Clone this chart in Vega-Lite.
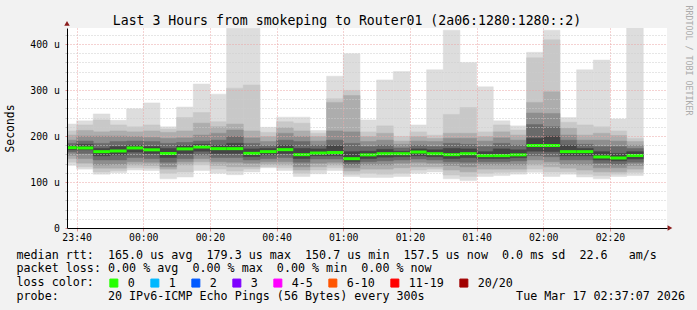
{
  "$schema": "https://vega.github.io/schema/vega-lite/v6.json",
  "width": 600,
  "height": 200,
  "autosize": {"type": "none"},
  "padding": {"left": 67, "top": 28, "right": 30, "bottom": 82},
  "background": "#f2f2f2",
  "config": {
    "font": "DejaVu Sans Mono",
    "view": {"fill": "white", "stroke": null}
  },
  "title": {
    "text": "Last 3 Hours from smokeping to Router01 (2a06:1280:1280::2)",
    "font": "DejaVu Sans Mono",
    "fontSize": 13.2,
    "fontWeight": "normal",
    "color": "black",
    "anchor": "middle",
    "frame": "group",
    "dx": -20,
    "dy": 37,
    "offset": 4,
    "baseline": "alphabetic"
  },
  "data": {
    "values": [
      {"s":"2026-03-16T23:35:00","e":"2026-03-16T23:40:00","mx":226,"h2":211,"h3":202,"h4":191,"h5":184,"h6":179,"med":174.6,"l6":170,"l5":165,"l4":158,"l3":151,"l2":143,"mn":136,"loss":"0"},
      {"s":"2026-03-16T23:40:00","e":"2026-03-16T23:45:00","mx":233,"h2":224,"h3":212,"h4":200,"h5":189,"h6":182,"med":174,"l6":170,"l5":162,"l4":151,"l3":141,"l2":133,"mn":128,"loss":"0"},
      {"s":"2026-03-16T23:45:00","e":"2026-03-16T23:50:00","mx":248,"h2":235,"h3":209,"h4":200,"h5":184,"h6":173,"med":166,"l6":157,"l5":148,"l4":137,"l3":130,"l2":122,"mn":117,"loss":"0"},
      {"s":"2026-03-16T23:50:00","e":"2026-03-16T23:55:00","mx":234,"h2":224,"h3":211,"h4":200,"h5":188,"h6":177,"med":167.4,"l6":159,"l5":148,"l4":138,"l3":130,"l2":125,"mn":120,"loss":"0"},
      {"s":"2026-03-16T23:55:00","e":"2026-03-17T00:00:00","mx":259,"h2":220,"h3":209,"h4":199,"h5":189,"h6":180,"med":174,"l6":165,"l5":153,"l4":144,"l3":137,"l2":131,"mn":126,"loss":"0"},
      {"s":"2026-03-17T00:00:00","e":"2026-03-17T00:05:00","mx":272,"h2":224,"h3":211,"h4":197,"h5":188,"h6":177,"med":170,"l6":162,"l5":151,"l4":143,"l3":136,"l2":130,"mn":125,"loss":"0"},
      {"s":"2026-03-17T00:05:00","e":"2026-03-17T00:10:00","mx":220,"h2":215,"h3":208,"h4":195,"h5":184,"h6":173,"med":162,"l6":153,"l5":143,"l4":133,"l3":128,"l2":119,"mn":107,"loss":"0"},
      {"s":"2026-03-17T00:10:00","e":"2026-03-17T00:15:00","mx":263,"h2":240,"h3":211,"h4":196,"h5":186,"h6":179,"med":172,"l6":162,"l5":151,"l4":144,"l3":137,"l2":122,"mn":111,"loss":"0"},
      {"s":"2026-03-17T00:15:00","e":"2026-03-17T00:20:00","mx":313,"h2":251,"h3":228,"h4":202,"h5":189,"h6":182,"med":176,"l6":167,"l5":159,"l4":151,"l3":144,"l2":137,"mn":125,"loss":"0"},
      {"s":"2026-03-17T00:20:00","e":"2026-03-17T00:25:00","mx":291,"h2":231,"h3":220,"h4":206,"h5":191,"h6":180,"med":172.5,"l6":162,"l5":153,"l4":144,"l3":136,"l2":128,"mn":119,"loss":"0"},
      {"s":"2026-03-17T00:25:00","e":"2026-03-17T00:30:00","mx":434,"h2":304,"h3":226,"h4":213,"h5":199,"h6":184,"med":172.5,"l6":162,"l5":153,"l4":143,"l3":133,"l2":124,"mn":116,"loss":"0"},
      {"s":"2026-03-17T00:30:00","e":"2026-03-17T00:35:00","mx":434,"h2":311,"h3":211,"h4":196,"h5":184,"h6":172,"med":162.3,"l6":155,"l5":148,"l4":141,"l3":133,"l2":128,"mn":122,"loss":"0"},
      {"s":"2026-03-17T00:35:00","e":"2026-03-17T00:40:00","mx":219,"h2":208,"h3":199,"h4":188,"h5":179,"h6":173,"med":166,"l6":159,"l5":151,"l4":144,"l3":138,"l2":133,"mn":131,"loss":"0"},
      {"s":"2026-03-17T00:40:00","e":"2026-03-17T00:45:00","mx":241,"h2":231,"h3":218,"h4":206,"h5":191,"h6":180,"med":170.3,"l6":162,"l5":153,"l4":144,"l3":137,"l2":131,"mn":125,"loss":"0"},
      {"s":"2026-03-17T00:45:00","e":"2026-03-17T00:50:00","mx":241,"h2":228,"h3":211,"h4":199,"h5":188,"h6":173,"med":159.4,"l6":151,"l5":143,"l4":133,"l3":126,"l2":119,"mn":112,"loss":"0"},
      {"s":"2026-03-17T00:50:00","e":"2026-03-17T00:55:00","mx":212,"h2":206,"h3":199,"h4":189,"h5":180,"h6":172,"med":163,"l6":157,"l5":150,"l4":141,"l3":133,"l2":126,"mn":118,"loss":"0"},
      {"s":"2026-03-17T00:55:00","e":"2026-03-17T01:00:00","mx":330,"h2":281,"h3":273,"h4":211,"h5":191,"h6":179,"med":164,"l6":157,"l5":150,"l4":143,"l3":137,"l2":131,"mn":125,"loss":"0"},
      {"s":"2026-03-17T01:00:00","e":"2026-03-17T01:05:00","mx":379,"h2":299,"h3":288,"h4":209,"h5":184,"h6":166,"med":150.7,"l6":144,"l5":138,"l4":131,"l3":124,"l2":117,"mn":112,"loss":"0"},
      {"s":"2026-03-17T01:05:00","e":"2026-03-17T01:10:00","mx":235,"h2":209,"h3":199,"h4":188,"h5":177,"h6":167,"med":159,"l6":151,"l5":144,"l4":137,"l3":128,"l2":119,"mn":110,"loss":"0"},
      {"s":"2026-03-17T01:10:00","e":"2026-03-17T01:15:00","mx":322,"h2":222,"h3":206,"h4":191,"h5":180,"h6":171,"med":161.6,"l6":154,"l5":146,"l4":137,"l3":128,"l2":117,"mn":110,"loss":"0"},
      {"s":"2026-03-17T01:15:00","e":"2026-03-17T01:20:00","mx":340,"h2":199,"h3":189,"h4":182,"h5":174,"h6":167,"med":161.6,"l6":155,"l5":148,"l4":141,"l3":131,"l2":119,"mn":112,"loss":"0"},
      {"s":"2026-03-17T01:20:00","e":"2026-03-17T01:25:00","mx":224,"h2":209,"h3":199,"h4":189,"h5":180,"h6":172,"med":165.2,"l6":157,"l5":150,"l4":143,"l3":133,"l2":126,"mn":119,"loss":"0"},
      {"s":"2026-03-17T01:25:00","e":"2026-03-17T01:30:00","mx":344,"h2":202,"h3":195,"h4":188,"h5":177,"h6":170,"med":161.6,"l6":155,"l5":148,"l4":141,"l3":133,"l2":128,"mn":122,"loss":"0"},
      {"s":"2026-03-17T01:30:00","e":"2026-03-17T01:35:00","mx":430,"h2":247,"h3":206,"h4":195,"h5":184,"h6":173,"med":159.4,"l6":151,"l5":144,"l4":136,"l3":126,"l2":115,"mn":107,"loss":"0"},
      {"s":"2026-03-17T01:35:00","e":"2026-03-17T01:40:00","mx":360,"h2":262,"h3":206,"h4":195,"h5":182,"h6":172,"med":161.6,"l6":153,"l5":143,"l4":133,"l3":122,"l2":112,"mn":103,"loss":"0"},
      {"s":"2026-03-17T01:40:00","e":"2026-03-17T01:45:00","mx":307,"h2":209,"h3":199,"h4":189,"h5":177,"h6":166,"med":157.3,"l6":151,"l5":144,"l4":137,"l3":128,"l2":119,"mn":112,"loss":"0"},
      {"s":"2026-03-17T01:45:00","e":"2026-03-17T01:50:00","mx":233,"h2":224,"h3":209,"h4":196,"h5":184,"h6":172,"med":157.3,"l6":151,"l5":144,"l4":137,"l3":128,"l2":121,"mn":114,"loss":"0"},
      {"s":"2026-03-17T01:50:00","e":"2026-03-17T01:55:00","mx":222,"h2":213,"h3":202,"h4":191,"h5":180,"h6":170,"med":159,"l6":153,"l5":146,"l4":137,"l3":128,"l2":122,"mn":117,"loss":"0"},
      {"s":"2026-03-17T01:55:00","e":"2026-03-17T02:00:00","mx":382,"h2":370,"h3":273,"h4":250,"h5":225,"h6":195,"med":179.3,"l6":167,"l5":157,"l4":148,"l3":137,"l2":128,"mn":121,"loss":"0"},
      {"s":"2026-03-17T02:00:00","e":"2026-03-17T02:05:00","mx":430,"h2":409,"h3":296,"h4":249,"h5":220,"h6":200,"med":179.3,"l6":166,"l5":155,"l4":144,"l3":133,"l2":122,"mn":112,"loss":"0"},
      {"s":"2026-03-17T02:05:00","e":"2026-03-17T02:10:00","mx":240,"h2":230,"h3":217,"h4":202,"h5":191,"h6":180,"med":166,"l6":157,"l5":148,"l4":138,"l3":130,"l2":122,"mn":117,"loss":"0"},
      {"s":"2026-03-17T02:10:00","e":"2026-03-17T02:15:00","mx":344,"h2":224,"h3":202,"h4":191,"h5":182,"h6":173,"med":166,"l6":157,"l5":148,"l4":137,"l3":126,"l2":117,"mn":111,"loss":"0"},
      {"s":"2026-03-17T02:15:00","e":"2026-03-17T02:20:00","mx":365,"h2":220,"h3":206,"h4":191,"h5":177,"h6":166,"med":154.4,"l6":148,"l5":141,"l4":131,"l3":122,"l2":114,"mn":107,"loss":"0"},
      {"s":"2026-03-17T02:20:00","e":"2026-03-17T02:25:00","mx":237,"h2":211,"h3":201,"h4":189,"h5":177,"h6":162,"med":152.2,"l6":146,"l5":138,"l4":131,"l3":122,"l2":117,"mn":112,"loss":"0"},
      {"s":"2026-03-17T02:25:00","e":"2026-03-17T02:30:00","mx":435,"h2":195,"h3":188,"h4":180,"h5":173,"h6":166,"med":157.5,"l6":150,"l5":143,"l4":136,"l3":128,"l2":121,"mn":114,"loss":"0"}
    ]
  },
  "layer": [
    {
      "mark": {"type": "rect", "color": "#dddddd", "stroke": "#dddddd", "strokeWidth": 0.5, "clip": true},
      "encoding": {
        "x": {
          "field": "s", "type": "temporal",
          "scale": {"domain": [{"year": 2026, "month": 3, "date": 16, "hours": 23, "minutes": 37, "seconds": 7}, {"year": 2026, "month": 3, "date": 17, "hours": 2, "minutes": 37, "seconds": 7}], "nice": false},
          "axis": {
            "orient": "bottom",
            "values": [
              {"year": 2026, "month": 3, "date": 16, "hours": 23, "minutes": 40},
              {"year": 2026, "month": 3, "date": 16, "hours": 23, "minutes": 45},
              {"year": 2026, "month": 3, "date": 16, "hours": 23, "minutes": 50},
              {"year": 2026, "month": 3, "date": 16, "hours": 23, "minutes": 55},
              {"year": 2026, "month": 3, "date": 17, "hours": 0, "minutes": 0},
              {"year": 2026, "month": 3, "date": 17, "hours": 0, "minutes": 5},
              {"year": 2026, "month": 3, "date": 17, "hours": 0, "minutes": 10},
              {"year": 2026, "month": 3, "date": 17, "hours": 0, "minutes": 15},
              {"year": 2026, "month": 3, "date": 17, "hours": 0, "minutes": 20},
              {"year": 2026, "month": 3, "date": 17, "hours": 0, "minutes": 25},
              {"year": 2026, "month": 3, "date": 17, "hours": 0, "minutes": 30},
              {"year": 2026, "month": 3, "date": 17, "hours": 0, "minutes": 35},
              {"year": 2026, "month": 3, "date": 17, "hours": 0, "minutes": 40},
              {"year": 2026, "month": 3, "date": 17, "hours": 0, "minutes": 45},
              {"year": 2026, "month": 3, "date": 17, "hours": 0, "minutes": 50},
              {"year": 2026, "month": 3, "date": 17, "hours": 0, "minutes": 55},
              {"year": 2026, "month": 3, "date": 17, "hours": 1, "minutes": 0},
              {"year": 2026, "month": 3, "date": 17, "hours": 1, "minutes": 5},
              {"year": 2026, "month": 3, "date": 17, "hours": 1, "minutes": 10},
              {"year": 2026, "month": 3, "date": 17, "hours": 1, "minutes": 15},
              {"year": 2026, "month": 3, "date": 17, "hours": 1, "minutes": 20},
              {"year": 2026, "month": 3, "date": 17, "hours": 1, "minutes": 25},
              {"year": 2026, "month": 3, "date": 17, "hours": 1, "minutes": 30},
              {"year": 2026, "month": 3, "date": 17, "hours": 1, "minutes": 35},
              {"year": 2026, "month": 3, "date": 17, "hours": 1, "minutes": 40},
              {"year": 2026, "month": 3, "date": 17, "hours": 1, "minutes": 45},
              {"year": 2026, "month": 3, "date": 17, "hours": 1, "minutes": 50},
              {"year": 2026, "month": 3, "date": 17, "hours": 1, "minutes": 55},
              {"year": 2026, "month": 3, "date": 17, "hours": 2, "minutes": 0},
              {"year": 2026, "month": 3, "date": 17, "hours": 2, "minutes": 5},
              {"year": 2026, "month": 3, "date": 17, "hours": 2, "minutes": 10},
              {"year": 2026, "month": 3, "date": 17, "hours": 2, "minutes": 15},
              {"year": 2026, "month": 3, "date": 17, "hours": 2, "minutes": 20},
              {"year": 2026, "month": 3, "date": 17, "hours": 2, "minutes": 25},
              {"year": 2026, "month": 3, "date": 17, "hours": 2, "minutes": 30},
              {"year": 2026, "month": 3, "date": 17, "hours": 2, "minutes": 35}
            ],
            "labelExpr": "minutes(datum.value) % 20 === 0 ? timeFormat(datum.value, '%H:%M') : ''",
            "labelFont": "DejaVu Sans Mono", "labelFontSize": 9.8, "labelColor": "black",
            "labelOverlap": false, "labelFlush": false, "labelBound": false, "labelPadding": 1.5,
            "ticks": true, "tickSize": 3, "tickWidth": 1,
            "tickColor": {"condition": {"test": "minutes(datum.value) % 20 === 0", "value": "#e09090"}, "value": "#c0c0c0"},
            "grid": true, "gridWidth": 1, "gridDash": [1, 2],
            "gridColor": {"condition": {"test": "minutes(datum.value) % 20 === 0", "value": "#eaa4a4"}, "value": "#cccccc"},
            "domainColor": "black", "domainWidth": 1,
            "zindex": 1,
            "title": ["median rtt:\u00a0\u00a0165.0 us avg\u00a0\u00a0179.3 us max\u00a0\u00a0150.7 us min\u00a0\u00a0157.5 us now\u00a0\u00a00.0 ms sd\u00a0\u00a022.6\u00a0\u00a0\u00a0am/s", "packet loss: 0.00 % avg\u00a0\u00a00.00 % max\u00a0\u00a00.00 % min\u00a0\u00a00.00 % now", "loss color:", "probe:\u00a0\u00a0\u00a0\u00a0\u00a0\u00a0\u00a020 IPv6-ICMP Echo Pings (56 Bytes) every 300s\u00a0\u00a0\u00a0\u00a0\u00a0\u00a0\u00a0\u00a0\u00a0\u00a0\u00a0\u00a0\u00a0Tue Mar 17 02:37:07 2026"],
            "titleFont": "DejaVu Sans Mono", "titleFontSize": 11.7, "titleFontWeight": "normal", "titleColor": "black",
            "titleAlign": "left", "titleAnchor": "start", "titleBaseline": "top",
            "titleX": -51, "titleY": 21, "titleLineHeight": 13.9
          }
        },
        "x2": {"field": "e"},
        "y": {
          "field": "mn", "type": "quantitative",
          "scale": {"domain": [0, 434.8], "nice": false, "zero": true},
          "axis": {
            "orient": "left",
            "values": [0, 20, 40, 60, 80, 100, 120, 140, 160, 180, 200, 220, 240, 260, 280, 300, 320, 340, 360, 380, 400, 420],
            "labelExpr": "datum.value % 100 === 0 ? (datum.value === 0 ? '0\u00a0\u00a0' : datum.value + '\u00a0u') : ''",
            "labelFont": "DejaVu Sans Mono", "labelFontSize": 9.8, "labelColor": "black",
            "labelOverlap": false, "labelFlush": false, "labelBound": false, "labelPadding": 5.7,
            "ticks": true, "tickSize": 2, "tickWidth": 1,
            "tickColor": {"condition": {"test": "datum.value % 100 === 0", "value": "#e09090"}, "value": "#c0c0c0"},
            "grid": true, "gridWidth": 1, "gridDash": [1, 2],
            "gridColor": {"condition": {"test": "datum.value % 100 === 0", "value": "#eaa4a4"}, "value": "#cccccc"},
            "domainColor": "black", "domainWidth": 1,
            "zindex": 1,
            "title": "Seconds",
            "titleFont": "DejaVu Sans Mono", "titleFontSize": 11.4, "titleFontWeight": "normal", "titleColor": "black",
            "titleAngle": -90, "titleAlign": "center", "titleBaseline": "middle",
            "titleX": -56.3, "titleY": 100
          }
        },
        "y2": {"field": "mx"}
      }
    },
    {
      "mark": {"type": "rect", "color": "#c8c8c8", "stroke": "#c8c8c8", "strokeWidth": 0.5, "clip": true},
      "encoding": {
        "x": {"field": "s", "type": "temporal"},
        "x2": {"field": "e"},
        "y": {"field": "l2", "type": "quantitative", "axis": null},
        "y2": {"field": "h2"}
      }
    },
    {
      "mark": {"type": "rect", "color": "#adadad", "stroke": "#adadad", "strokeWidth": 0.5, "clip": true},
      "encoding": {
        "x": {"field": "s", "type": "temporal"},
        "x2": {"field": "e"},
        "y": {"field": "l3", "type": "quantitative", "axis": null},
        "y2": {"field": "h3"}
      }
    },
    {
      "mark": {"type": "rect", "color": "#8e8e8e", "stroke": "#8e8e8e", "strokeWidth": 0.5, "clip": true},
      "encoding": {
        "x": {"field": "s", "type": "temporal"},
        "x2": {"field": "e"},
        "y": {"field": "l4", "type": "quantitative", "axis": null},
        "y2": {"field": "h4"}
      }
    },
    {
      "mark": {"type": "rect", "color": "#6a6a6a", "stroke": "#6a6a6a", "strokeWidth": 0.5, "clip": true},
      "encoding": {
        "x": {"field": "s", "type": "temporal"},
        "x2": {"field": "e"},
        "y": {"field": "l5", "type": "quantitative", "axis": null},
        "y2": {"field": "h5"}
      }
    },
    {
      "mark": {"type": "rect", "color": "#444444", "stroke": "#444444", "strokeWidth": 0.5, "clip": true},
      "encoding": {
        "x": {"field": "s", "type": "temporal"},
        "x2": {"field": "e"},
        "y": {"field": "l6", "type": "quantitative", "axis": null},
        "y2": {"field": "h6"}
      }
    },
    {
      "mark": {"type": "rule", "strokeWidth": 3, "strokeCap": "butt", "clip": true},
      "encoding": {
        "x": {"field": "s", "type": "temporal"},
        "x2": {"field": "e"},
        "y": {
          "field": "med", "type": "quantitative",
          "axis": {
            "orient": "right", "labels": false, "ticks": false, "domain": false, "grid": false,
            "title": "RRDTOOL / TOBI OETIKER",
            "titleFont": "DejaVu Sans Mono", "titleFontSize": 8.3, "titleFontWeight": "normal", "titleColor": "#ababab",
            "titleAngle": 90, "titleAlign": "center", "titleBaseline": "middle",
            "titleX": 20.7, "titleY": 32
          }
        },
        "color": {
          "field": "loss", "type": "nominal",
          "scale": {"domain": ["0", "1", "2", "3", "4-5", "6-10", "11-19", "20/20"], "range": ["#26ff00", "#00b8ff", "#0059ff", "#7e00ff", "#ff00ff", "#ff5500", "#ff0000", "#a10000"]},
          "legend": {
            "title": null,
            "orient": "none", "legendX": 41, "legendY": 249,
            "direction": "horizontal", "padding": 0,
            "labelFont": "DejaVu Sans Mono", "labelFontSize": 11.7, "labelColor": "black",
            "labelOffset": 8, "columnPadding": 13,
            "symbolType": "square", "symbolSize": 64, "symbolStrokeColor": "black", "symbolStrokeWidth": 1, "symbolOpacity": 1,
            "encode": {"symbols": {"update": {"fill": {"scale": "color", "field": "value"}, "stroke": {"value": "black"}, "strokeWidth": {"value": 1}}}}
          }
        }
      }
    },
    {
      "data": {"values": [{}]},
      "mark": {"type": "point", "shape": "triangle-right", "filled": true, "color": "#8b1d1d", "size": 30, "opacity": 1, "clip": false},
      "encoding": {
        "x": {"datum": {"year": 2026, "month": 3, "date": 17, "hours": 2, "minutes": 38, "seconds": 0}, "type": "temporal"},
        "y": {"datum": 0, "type": "quantitative", "axis": null}
      }
    },
    {
      "data": {"values": [{}]},
      "mark": {"type": "point", "shape": "triangle-up", "filled": true, "color": "#8b1d1d", "size": 30, "opacity": 1, "clip": false},
      "encoding": {
        "x": {"datum": {"year": 2026, "month": 3, "date": 16, "hours": 23, "minutes": 37, "seconds": 7}, "type": "temporal"},
        "y": {"datum": 445, "type": "quantitative", "axis": null}
      }
    }
  ],
  "resolve": {"axis": {"y": "independent"}}
}
